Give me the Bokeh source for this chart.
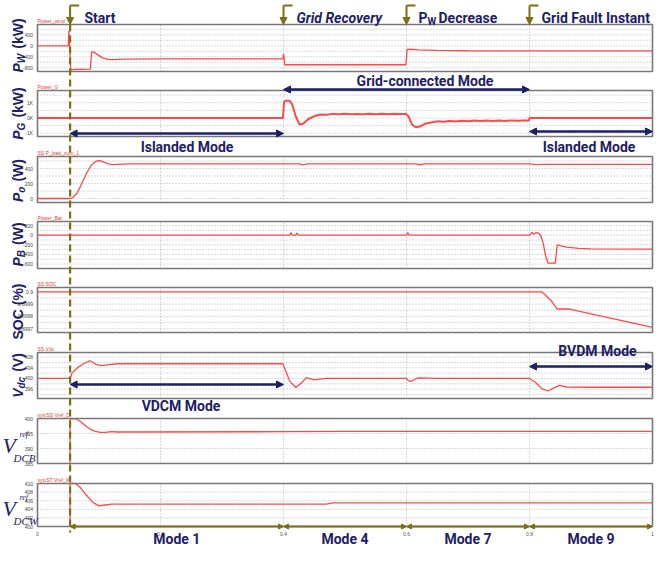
import math
from bokeh.plotting import figure
from bokeh.models import Range1d, Arrow, NormalHead
from bokeh.embed import file_html
from bokeh.resources import INLINE
from bokeh.core.properties import value

# ---------------- data ----------------
event_t = [0.053, 0.4, 0.6, 0.8]
x_ticks = [0.0, 0.2, 0.4, 0.6, 0.8, 1.0]
x_tick_labels = ["0", "0.2", "0.4", "0.6", "0.8", "1"]
mode_names = ["Mode 1", "Mode 4", "Mode 7", "Mode 9"]
mode_bounds = [0.053, 0.4, 0.6, 0.8, 1.0]

pw_t = [0, 0.050, 0.051, 0.0525, 0.054, 0.086, 0.088, 0.092, 0.098, 0.105, 0.115, 0.125, 0.14,
        0.2, 0.3, 0.399, 0.400, 0.401, 0.402, 0.5, 0.599, 0.601, 0.605, 0.62, 0.65, 0.7, 0.8, 0.9, 1.0]
pw_v = [0, 0, 540, -100, -870, -850, -220, -230, -330, -430, -500, -505, -485,
        -475, -478, -478, -300, -420, -690, -690, -690, -130, -125, -150, -170, -180, -185, -185, -185]

pg_t = [0, 0.399, 0.401, 0.405, 0.410, 0.414, 0.420, 0.426, 0.432, 0.44, 0.45, 0.46, 0.47, 0.48, 0.49,
        0.5, 0.51, 0.52, 0.53, 0.54, 0.55, 0.56, 0.57, 0.58, 0.59, 0.599, 0.603, 0.609, 0.615, 0.622,
        0.63, 0.64, 0.65, 0.66, 0.67, 0.68, 0.69, 0.70, 0.71, 0.72, 0.73, 0.74, 0.75, 0.76, 0.77, 0.78,
        0.79, 0.799, 0.800, 1.0]
pg_v = [0, 0, 1050, 1150, 1120, 900, 100, -420, -380, -80, 120, 230, 210, 270, 240,
        280, 250, 270, 240, 280, 250, 275, 245, 280, 255, 265, 120, -420, -600, -560,
        -380, -300, -220, -250, -190, -230, -180, -210, -170, -200, -160, -195, -165, -190, -155, -185,
        -160, -170, 0, 0]

po_t = [0, 0.053, 0.058, 0.065, 0.072, 0.08, 0.088, 0.096, 0.102, 0.108, 0.115, 0.122, 0.13, 0.15,
        0.2, 0.4, 0.425, 0.432, 0.44, 0.6, 0.615, 0.622, 0.63, 0.8, 0.812, 0.82, 1.0]
po_v = [0, 0, 15, 80, 200, 340, 450, 500, 505, 485, 462, 452, 455, 462,
        462, 462, 462, 448, 462, 462, 462, 450, 462, 462, 452, 455, 455]

pb_t = [0, 0.4, 0.41, 0.412, 0.414, 0.42, 0.422, 0.424, 0.6, 0.602, 0.604, 0.8, 0.804, 0.807,
        0.811, 0.815, 0.818, 0.822, 0.826, 0.83, 0.842, 0.845, 0.85, 0.86, 0.88, 0.9, 1.0]
pb_v = [0, 0, 0, 55, 0, 0, 45, 0, 0, 55, 0, 0, 55, 20,
        55, 40, 0, -150, -420, -580, -580, -200, -215, -250, -275, -285, -290]

soc_t = [0, 0.82, 0.835, 0.845, 0.865, 1.0]
soc_v = [0.9, 0.9, 0.89993, 0.89986, 0.89986, 0.89971]

vdc_t = [0, 0.053, 0.056, 0.065, 0.075, 0.085, 0.095, 0.105, 0.115, 0.13, 0.2, 0.399, 0.405, 0.41,
         0.42, 0.43, 0.437, 0.45, 0.47, 0.5, 0.6, 0.603, 0.607, 0.615, 0.62, 0.65, 0.8, 0.81, 0.82,
         0.83, 0.84, 0.849, 0.86, 0.9, 1.0]
vdc_v = [400, 400, 402, 404, 405.5, 406.6, 405.3, 404.8, 405.2, 405.5, 405.5, 405.5, 402, 399,
         396.6, 398.5, 400.3, 399.5, 400, 400, 400, 399.2, 398.9, 399.8, 400.2, 400, 400, 398.5, 396.2,
         395.3, 396.5, 397.4, 396.8, 396.7, 396.7]

vdcb_t = [0.053, 0.053, 0.062, 0.07, 0.078, 0.086, 0.094, 0.102, 0.11, 0.12, 0.13, 0.15, 0.4, 0.5, 1.0]
vdcb_v = [385, 400, 399.9, 399.0, 397.6, 396.4, 395.7, 395.4, 395.4, 395.6, 395.5, 395.5, 395.6, 395.7, 395.7]

vdcw_t = [0.053, 0.053, 0.062, 0.07, 0.08, 0.09, 0.1, 0.11, 0.12, 0.14, 0.47, 0.48, 1.0]
vdcw_v = [400, 410, 410, 409, 407.2, 405.6, 404.8, 405.0, 405.2, 405.2, 405.2, 405.5, 405.5]

panel_titles = ["Power_wind", "Power_G", "SS P_load_sum_1", "Power_Bat", "SS SOC", "SS Vdc",
                "sys\\SS Vref_D", "sys\\ST Vref_W"]
tick_vals = [[400, 0, -400, -800], [1000, 0, -1000], [400, 200, 0], [200, 0, -200, -400, -600],
             [0.9, 0.8999, 0.8998, 0.8997], [408, 404, 400, 396], [400, 395, 390, 385],
             [410, 408, 406, 404, 402, 400]]
tick_text = [["400", "0", "-400", "-800"], ["1K", "0K", "-1K"], ["400", "200", "0"],
             ["200", "0", "-200", "-400", "-600"], ["0.9", "0.8999", "0.8998", "0.8997"],
             ["408", "404", "400", "396"], ["400", "395", "390", "385"],
             ["410", "408", "406", "404", "402", "400"]]
grid_vals = [[600, 400, 200, 0, -200, -400, -600, -800], [1500, 1000, 500, 0, -500, -1000],
             [500, 400, 300, 200, 100, 0], [200, 100, 0, -100, -200, -300, -400, -500, -600],
             [0.9, 0.89995, 0.8999, 0.89985, 0.8998, 0.89975, 0.8997],
             [408, 406, 404, 402, 400, 398, 396, 394], [395, 390], [408, 406, 404, 402]]
series = [(pw_t, pw_v), (pg_t, pg_v), (po_t, po_v), (pb_t, pb_v), (soc_t, soc_v),
          (vdc_t, vdc_v), (vdcb_t, vdcb_v), (vdcw_t, vdcw_v)]

# ---------------- layout ----------------
boxes = [(32, 79), (98, 144), (164, 210), (229, 276), (295, 340), (360, 406), (426, 471), (491, 534)]
limits = [(-935, 775), (-1210, 1800), (-53, 560), (-693, 285), (0.899669, 0.900035),
          (392.5, 409.7), (385, 400), (400, 410)]

PX0, PX1 = 45.0, 660.0
TOPPX, BOTPX, LEFTPX, RIGHTPX = 8.0, 554.0, 8.0, 664.0


def t_of(px):
    return (px - PX0) / (PX1 - PX0)


NAVY = "#1d2068"
OLIVE = "#7f6c14"
RED = "#ff3434"
GRID = "#b4b4b4"
LBL = "Roboto"

p = figure(width=656, height=546, x_range=Range1d(t_of(LEFTPX), t_of(RIGHTPX)),
           y_range=Range1d(BOTPX, TOPPX), x_axis_type=None, y_axis_type=None,
           toolbar_location=None, output_backend="svg", min_border=0,
           outline_line_color=None, title=None)
p.background_fill_color = "white"
p.border_fill_color = "white"

extra = {}
for i, ((T, B), (lo, hi)) in enumerate(zip(boxes, limits)):
    s = lo + (B - BOTPX) / (B - T) * (hi - lo)
    e = lo + (B - TOPPX) / (B - T) * (hi - lo)
    extra[f"p{i}"] = Range1d(s, e)
p.extra_y_ranges = extra
p.extra_x_ranges = {"px": Range1d(LEFTPX, RIGHTPX)}

for i, ((T, B), (lo, hi)) in enumerate(zip(boxes, limits)):
    rn = f"p{i}"
    gv = [g for g in grid_vals[i] if lo < g < hi]
    p.segment(x0=[0.0] * len(gv), x1=[1.0] * len(gv), y0=gv, y1=gv, y_range_name=rn,
              line_color=GRID, line_dash="1 2", line_width=1)
    vx = x_ticks[1:-1]
    p.segment(x0=vx, x1=vx, y0=[lo] * len(vx), y1=[hi] * len(vx), y_range_name=rn,
              line_color=GRID, line_dash="1 2", line_width=1)
    tt, vv = series[i]
    p.line(tt, vv, y_range_name=rn, line_color=RED, line_width=2.0 if i == 1 else 1.3,
           line_alpha=0.9)
    p.quad(left=[0.0], right=[1.0], bottom=[lo], top=[hi], y_range_name=rn,
           fill_color=None, line_color="#777777", line_width=1.6)
    n = len(tick_vals[i])
    p.text(x=[t_of(40.5)] * n, y=tick_vals[i], text=tick_text[i], y_range_name=rn,
           text_align="right", text_baseline="middle", text_font_size="5px",
           text_color="#444444", text_font=value("Liberation Sans"))
    p.text(x=[PX0], y=[T - 4], text=[panel_titles[i]], x_range_name="px",
           text_align="left", text_baseline="alphabetic", text_font_size="5px",
           text_color="#e83a3a", text_font=value("Liberation Sans"))

p.text(x=x_ticks, y=[541] * len(x_ticks), text=x_tick_labels, text_align="center",
       text_baseline="middle", text_font_size="5px", text_color="#555555",
       text_font=value("Liberation Sans"))

# ---------------- rotated y titles ----------------
CW = {'P': .667, 'W': .944, 'G': .778, 'o': .611, 'B': .722, 'S': .667, 'O': .778, 'C': .722,
      'V': .667, 'd': .611, 'c': .556, 'k': .556, ' ': .278, '(': .333, ')': .333, '%': .889}


def tw(txt, size):
    return sum(CW.get(ch, 0.6) for ch in txt) * size


def vlabel(xb, yc, runs):
    total = sum(tw(r[0], r[1]) + r[4] for r in runs)
    y = yc + total / 2
    for txt, size, style, sh, gap in runs:
        y -= gap
        p.text(x=[xb + sh], y=[y], text=[txt], x_range_name="px", angle=math.pi / 2,
               text_align="left", text_baseline="alphabetic", text_font_size=f"{size}px",
               text_font_style=style, text_color=NAVY, text_font=value("Liberation Sans"))
        y -= tw(txt, size)


ylabels = [
    (53, [("P", 14, "bold italic", 0, 0), ("W", 10, "bold italic", 3, 0), ("(kW)", 14, "bold", 0, 5)]),
    (121, [("P", 14, "bold italic", 0, 0), ("G", 10, "bold italic", 3, 0), ("(kW)", 14, "bold", 0, 5)]),
    (188, [("P", 14, "bold italic", 0, 0), ("o", 10, "bold italic", 3, 0), ("(W)", 14, "bold", 0, 5)]),
    (252, [("P", 14, "bold italic", 0, 0), ("B", 10, "bold italic", 3, 0), ("(W)", 14, "bold", 0, 5)]),
    (319, [("SOC (%)", 14, "bold", 0, 0)]),
    (383, [("V", 14, "bold italic", 0, 0), ("dc", 10, "bold italic", 3, 0), ("(V)", 14, "bold", 0, 5)]),
]
for yc, runs in ylabels:
    vlabel(25.5, yc, runs)

for base, sub in [(453, "DCB"), (516, "DCW")]:
    p.text(x=[10], y=[base], text=["V"], x_range_name="px", text_font_size="22px",
           text_font_style="italic", text_color=NAVY, text_font=value("Liberation Serif"),
           text_baseline="alphabetic")
    p.text(x=[27], y=[base - 11], text=["ref"], x_range_name="px", text_font_size="8px",
           text_font_style="italic", text_color=NAVY, text_font=value("Liberation Serif"),
           text_baseline="alphabetic")
    p.text(x=[21], y=[base + 12], text=[sub], x_range_name="px", text_font_size="11px",
           text_font_style="italic", text_color=NAVY, text_font=value("Liberation Serif"),
           text_baseline="alphabetic")

# ---------------- events ----------------
hook = 9.0 / (PX1 - PX0)
for et in event_t:
    p.segment(x0=[et], x1=[et + hook], y0=[13], y1=[13], line_color=OLIVE, line_width=2)
    p.add_layout(Arrow(x_start=et, y_start=13, x_end=et, y_end=32, line_color=OLIVE,
                       line_width=2, end=NormalHead(size=7, fill_color=OLIVE, line_color=OLIVE)))
p.segment(x0=[event_t[0]], x1=[event_t[0]], y0=[32], y1=[540], line_color=OLIVE,
          line_width=2.2, line_dash="7 4")

ev_font = dict(text_font=value(LBL), text_font_size="14px", text_color=NAVY,
               text_baseline="alphabetic", text_align="left", x_range_name="px")
p.text(x=[92], y=[25], text=["Start"], text_font_style="bold", **ev_font)
p.text(x=[304], y=[25], text=["Grid Recovery"], text_font_style="bold italic", **ev_font)
p.text(x=[426], y=[25], text=["P"], text_font_style="bold", **ev_font)
p.text(x=[435], y=[29], text=["W"], text_font_style="bold", x_range_name="px",
       text_font=value(LBL), text_font_size="10px", text_color=NAVY,
       text_baseline="alphabetic", text_align="left")
p.text(x=[446], y=[25], text=["Decrease"], text_font_style="bold", **ev_font)
p.text(x=[549], y=[25], text=["Grid Fault Instant"], text_font_style="bold", **ev_font)


# ---------------- mode arrows / labels ----------------
def darrow(x0, x1, y, color, lw, size):
    p.add_layout(Arrow(x_start=x0, y_start=y, x_end=x1, y_end=y, line_color=color, line_width=lw,
                       start=NormalHead(size=size, fill_color=color, line_color=color),
                       end=NormalHead(size=size, fill_color=color, line_color=color)))


lab_font = dict(text_font=value(LBL), text_font_size="14px", text_color=NAVY,
                text_baseline="middle", text_align="center", text_font_style="bold",
                x_range_name="px")

darrow(event_t[0], event_t[1], 141, NAVY, 2.5, 7)
p.text(x=[194.5], y=[154], text=["Islanded Mode"], **lab_font)
darrow(event_t[1], event_t[3], 97, NAVY, 2.5, 7)
p.text(x=[432.5], y=[88], text=["Grid-connected Mode"], **lab_font)
darrow(event_t[3], 1.0, 139, NAVY, 2.5, 7)
p.text(x=[596.5], y=[154], text=["Islanded Mode"], **lab_font)
darrow(event_t[0], event_t[1], 392, NAVY, 2.5, 7)
p.text(x=[188.5], y=[413], text=["VDCM Mode"], **lab_font)
darrow(event_t[3], 1.0, 374, NAVY, 2.5, 7)
p.text(x=[605], y=[358], text=["BVDM Mode"], **lab_font)

for k in range(4):
    darrow(mode_bounds[k], mode_bounds[k + 1], 534, OLIVE, 2, 5)
mode_cx = [(mode_bounds[k] + mode_bounds[k + 1]) / 2 for k in range(4)]
p.text(x=mode_cx, y=[546] * 4, text=mode_names, text_font=value(LBL), text_font_size="14px",
       text_color=NAVY, text_baseline="middle", text_align="center", text_font_style="bold")

open("out.html", "w").write(file_html(p, INLINE))
